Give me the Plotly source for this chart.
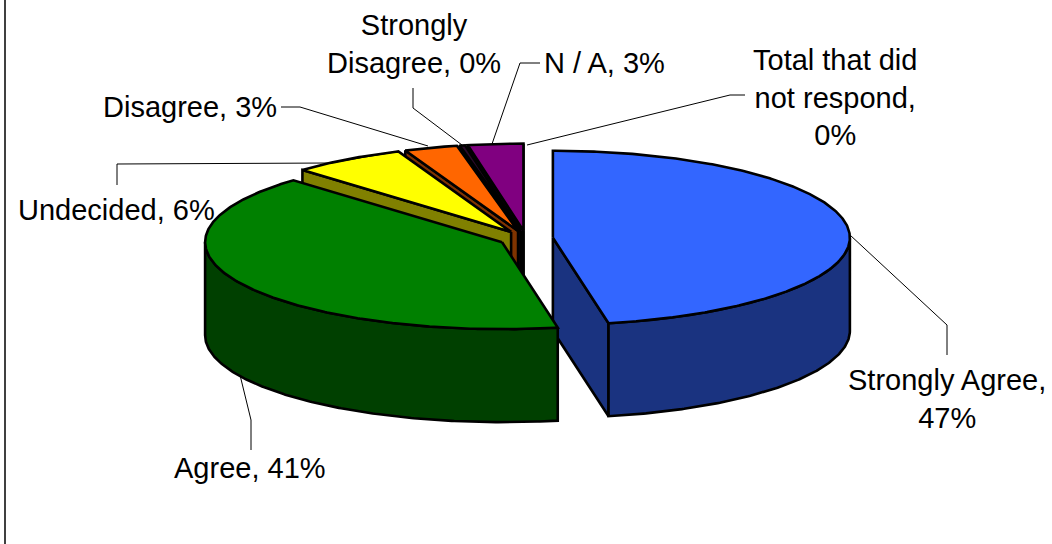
import numpy as np
import plotly.graph_objects as go

# ---- data ----
categories = ["Strongly Agree", "Agree", "Undecided", "Disagree", "Strongly Disagree", "N / A", "Total that did not respond"]
values = [47.0, 40.6, 6.2, 2.9, 0.3, 3.0, 0.0]
label_text = ["Strongly Agree,<br>47%", "Agree, 41%", "Undecided, 6%", "Disagree, 3%",
              "Strongly<br>Disagree, 0%", "N / A, 3%", "Total that did<br>not respond,<br>0%"]

# ---- style ----
top_colors = ["#3366FF", "#008000", "#FFFF00", "#FF6600", "#2A0A2A", "#800080", "#000000"]
side_colors = ["#1A3380", "#004000", "#808000", "#803300", "#150515", "#400040", "#000000"]
label_pos = [(947, 399), (250, 468), (116, 210), (190, 107), (414, 44), (604, 63), (835, 97)]
draw_order = [5, 4, 3, 2, 0, 1]

# ---- pie geometry (pixel axes) ----
CX, CY, RX, RY, DEPTH, EXPLODE = 526, 238.5, 297, 87, 93, 27
KY = RY / RX
OUTLINE = 2.6

edges = 360 * np.concatenate([[0], np.cumsum(values)]) / sum(values)


def apex(i):
    mid = np.radians((edges[i] + edges[i + 1]) / 2)
    return CX + EXPLODE * np.sin(mid), CY - EXPLODE * KY * np.cos(mid)


def arc(i, a0, a1):
    ax, ay = apex(i)
    t = np.radians(np.linspace(a0, a1, max(2, int(abs(a1 - a0)) * 2 + 2)))
    return ax + RX * np.sin(t), ay - RY * np.cos(t)


def poly(x, y, fill):
    return go.Scatter(x=np.append(x, x[0]), y=np.append(y, y[0]), mode="lines", fill="toself",
                      fillcolor=fill, line=dict(color="black", width=OUTLINE),
                      hoverinfo="skip", showlegend=False)


fig = go.Figure()
for i in draw_order:
    a0, a1 = edges[i], edges[i + 1]
    ax, ay = apex(i)
    # cut faces that face the viewer
    cuts = []
    if a0 >= 180:
        cuts.append(a0)
    if a1 <= 180 or a1 >= 359.9:
        cuts.append(a1)
    for a in cuts:
        ex, ey = arc(i, a, a)
        ex, ey = ex[0], ey[0]
        fig.add_trace(poly(np.array([ax, ex, ex, ax]), np.array([ay, ey, ey + DEPTH, ay + DEPTH]), side_colors[i]))
    # outer wall (front half only)
    lo, hi = max(a0, 90), min(a1, 270)
    if hi > lo:
        wx, wy = arc(i, lo, hi)
        fig.add_trace(poly(np.concatenate([wx, wx[::-1]]), np.concatenate([wy, wy[::-1] + DEPTH]), side_colors[i]))
    # top
    tx, ty = arc(i, a0, a1)
    fig.add_trace(poly(np.concatenate([[ax], tx]), np.concatenate([[ay], ty]), top_colors[i]))

annotations = [dict(x=x, y=y, xref="x", yref="y", text=t, showarrow=False, xanchor="center", yanchor="middle",
                    align="center", font=dict(family="Liberation Sans", size=29, color="black"))
               for t, (x, y) in zip(label_text, label_pos)]

leaders = [
    "M 850 235 L 947 325 L 947 355",
    "M 240 375 L 251 420 L 251 450",
    "M 117 185 L 117 164 L 330 163 L 395 152",
    "M 281 107 L 300 107 L 428 146",
    "M 413 88 L 413 108 L 462 145",
    "M 540 63 L 520 63 L 492 144",
    "M 745 95 L 730 95 L 527 145",
]
shapes = [dict(type="path", path=p, xref="x", yref="y", line=dict(color="black", width=1)) for p in leaders]
shapes.append(dict(type="line", x0=5, x1=5, y0=0, y1=544, xref="x", yref="y", line=dict(color="#404040", width=2)))

fig.update_layout(
    width=1052, height=544, margin=dict(l=0, r=0, t=0, b=0),
    paper_bgcolor="white", plot_bgcolor="white", showlegend=False,
    xaxis=dict(range=[0, 1052], visible=False, fixedrange=True),
    yaxis=dict(range=[544, 0], visible=False, fixedrange=True),
    annotations=annotations, shapes=shapes,
)
fig.write_html("out.html", config=dict(displayModeBar=False),
               post_script="document.body.style.margin='0';document.body.style.overflow='hidden';")
